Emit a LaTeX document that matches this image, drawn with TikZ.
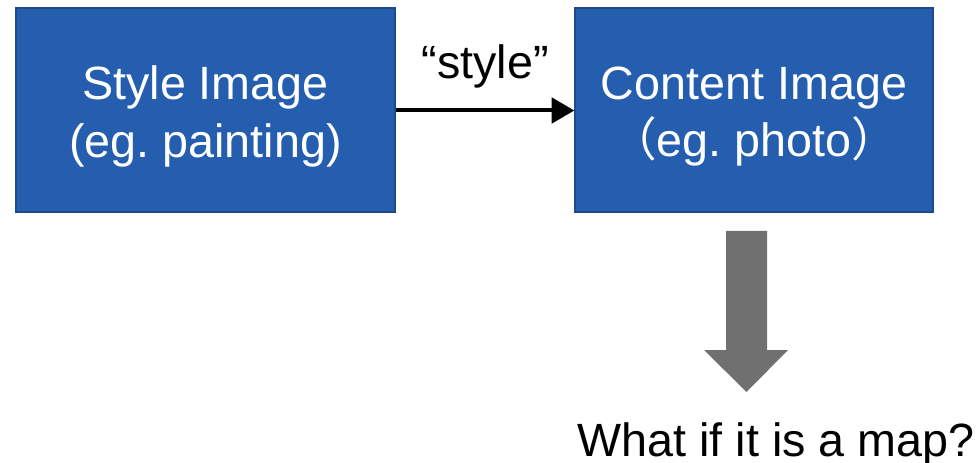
\documentclass[tikz,border=0pt]{standalone}
\usepackage{fontspec}
\setmainfont{Liberation Sans}
\newfontfamily\cjk{Noto Sans CJK SC}
\usetikzlibrary{arrows.meta, positioning}
\frenchspacing
\definecolor{boxblue}{RGB}{37,94,174}
\definecolor{boxedge}{RGB}{30,74,140}
\definecolor{arrowgray}{RGB}{112,112,112}
\tikzset{image node/.style={rectangle, draw=boxedge, line width=1.5pt, fill=boxblue, minimum width=268pt, minimum height=153pt, inner sep=0pt},
  box text/.style={text=white, align=center, yshift=-4.5pt, font=\fontsize{35}{43}\selectfont},
  label text/.style={font=\fontsize{35}{43}\selectfont},
  arrow/.style={-{Triangle[length=17pt,width=19pt]}, line width=3pt}
}
\begin{document}
\begin{tikzpicture}[x=0.75pt, y=-0.75pt]
          \useasboundingbox (0,0) rectangle (977,463);
          % Boxes
          \node[image node, minimum width=284pt] (style img) at (205.5,110.5) {};
          \node[box text] (style txt) at (style img) {Style Image\\(eg. painting)};
          \node[image node] (content img) at (754,110.5) {};
          \node[box text] (content txt) at (content img) {Content Image\\{\cjk （}eg. photo{\cjk ）}};
          % Connection
          \draw[arrow] (style img) -- node[label text, above=12pt] {“style”} (content img);
          % Down arrow
          \fill[arrowgray] (726,231) -- (767,231) -- (767,350) -- (788,350) -- (746.5,392) -- (704,350) -- (726,350) -- cycle;
          \node[label text, anchor=base] (question) at (776,456) {What if it is a map?};
        \end{tikzpicture}
\end{document}
